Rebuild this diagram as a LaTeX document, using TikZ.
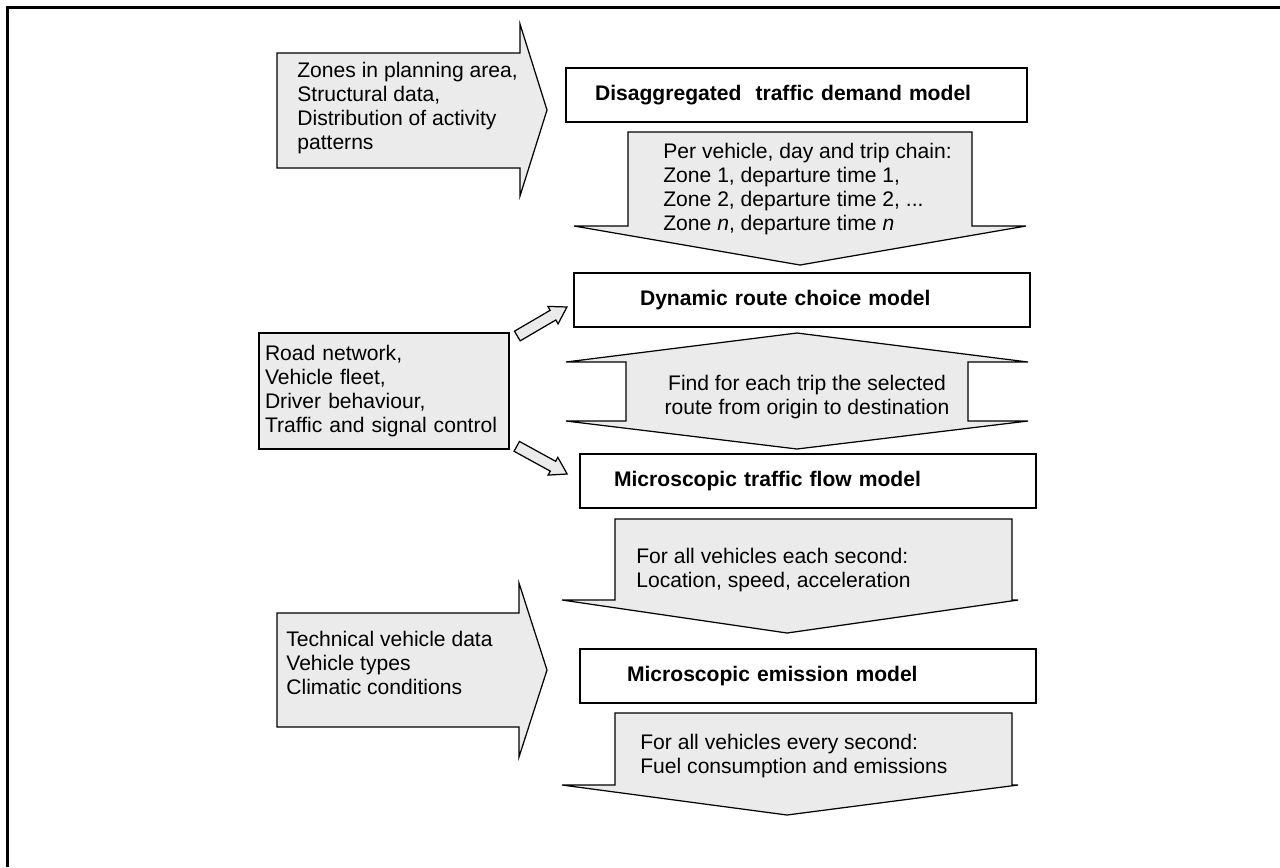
\documentclass[tikz,border=0pt]{standalone}
\usepackage{fontspec}
\setmainfont{Liberation Sans}
\usetikzlibrary{shapes.arrows}
\tikzstyle{model} = [rectangle, 
draw=black, 
line width=0.7pt, 
fill=white, 
minimum height=10.8mm, 
inner ysep=0pt, 
align=left, 
font=\bfseries\fontsize{12}{13.8}\selectfont]
\tikzstyle{inbox} = [rectangle, draw=black, line width=0.7pt, fill=black!8, 
minimum height=23.2mm, inner xsep=1.2mm, text width=47.6mm, align=left, 
font=\fontsize{12}{13.6}\selectfont]
\tikzstyle{blockarrow} = [draw=black, line width=0.7pt, fill=black!8]
\tikzstyle{txt} = [inner sep=0pt, font=\fontsize{12}{13.8}\selectfont]
\tikzstyle{feed} = [single arrow, draw=black, line width=0.7pt, fill=black!8, 
minimum width=0pt, minimum height=11.5mm, inner xsep=0pt, inner ysep=1mm, 
single arrow head extend=0.9mm, single arrow tip angle=64]

\begin{document}
\begin{tikzpicture}[x=0.02cm, y=-0.02cm]
		
		% canvas and frame
		\useasboundingbox (0,0) rectangle (1280,867);
		\draw[line width=1.7pt] (7.5,867) -- (7.5,7.5) -- (1280,7.5);
		
		% inputs on the left
		\filldraw[blockarrow] (277,53) -- (520,53) -- (520,24) -- (547,110) -- (520,196) -- (520,168) -- (277,168) -- cycle;
		\node[txt, anchor=west, align=left] (zones) at (297,108) {Zones in planning area,\\ Structural data,\\ Distribution of activity\\ patterns};
		
		\node[inbox] (network) at (384,391) {Road network,\\ Vehicle fleet,\\ Driver behaviour,\\ Traffic and signal control};
		
		\filldraw[blockarrow] (277,613) -- (519,613) -- (519,583) -- (547,670) -- (519,757) -- (519,727) -- (277,727) -- cycle;
		\node[txt, anchor=west, align=left] (vehdata) at (286,663) {Technical vehicle data\\ Vehicle types\\ Climatic conditions};
		
		% model chain
		\node[model, inner xsep=5.8mm, text width=80.6mm] (demand) at (796.5,95) {Disaggregated\ \ traffic demand model};
		
		\filldraw[blockarrow] (628,132) -- (972,132) -- (972,226) -- (1026,226) -- (800,265) -- (574,226) -- (628,226) -- cycle;
		\node[txt, anchor=west, align=left] (chains) at (663,189) {Per vehicle, day and trip chain:\\ Zone 1, departure time 1,\\ Zone 2, departure time 2, ...\\ Zone \textit{n}, departure time \textit{n}};
		
		\node[model, inner xsep=13.2mm, text width=64.8mm] (routechoice) at (802,300) {Dynamic route choice model};
		
		\filldraw[blockarrow] (797,333) -- (1028,362) -- (968,362) -- (968,421) -- (1028,421) -- (797,449) -- (566,421) -- (626,421) -- (626,362) -- (566,362) -- cycle;
		\node[txt, align=center] (routes) at (807,397) {Find for each trip the selected\\ route from origin to destination};
		
		\node[model, inner xsep=6.8mm, text width=77.6mm] (trafficflow) at (808,481) {Microscopic traffic flow model};
		
		\filldraw[blockarrow] (615,519) -- (1012,519) -- (1012,600) -- (1018,600) -- (787,633) -- (562,600) -- (615,600) -- cycle;
		\node[txt, anchor=west, align=left] (states) at (636,570) {For all vehicles each second:\\ Location, speed, acceleration};
		
		\node[model, inner xsep=9.4mm, text width=72.4mm] (emission) at (808,676) {Microscopic emission model};
		
		\filldraw[blockarrow] (615,713) -- (1012,713) -- (1012,785) -- (1018,785) -- (787,815) -- (562,785) -- (615,785) -- cycle;
		\node[txt, anchor=west, align=left] (emis) at (640,756) {For all vehicles every second:\\ Fuel consumption and emissions};
		
		% feeds from the network box
		\coordinate (f1s) at ([shift={(4.5,5.5)}]network.north east);
		\coordinate (f1e) at ([shift={(-11,-18)}]routechoice.south west);
		\coordinate (f2s) at ([shift={(4,-5)}]network.south east);
		\coordinate (f2e) at ([shift={(-17,18)}]trafficflow.north west);
		\path (f1s) -- (f1e) node[midway, sloped, feed] (feedroute) {};
		\path (f2s) -- (f2e) node[midway, sloped, feed] (feedflow) {};
		
	\end{tikzpicture}
\end{document}
